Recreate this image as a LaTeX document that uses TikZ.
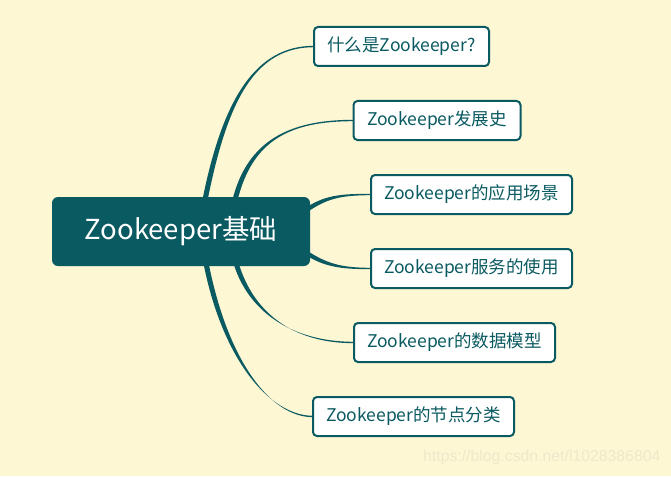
\documentclass[tikz,border=0pt]{standalone}
\usepackage{fontspec}
\setmainfont{Noto Sans CJK SC}
\newfontfamily\wmfont{Liberation Sans}
\usetikzlibrary{calc}
\definecolor{bg}{HTML}{FEF7D4}
\definecolor{tealc}{HTML}{0A5A61}
\definecolor{wmc}{HTML}{EFE8CB}
\pgfdeclarelayer{back}
\pgfsetlayers{back,main}
\newcommand\tbr[5]{%
  \fill[tealc] ($#1+#5$) .. controls ($#2+#5$) and ($#3+(0,0.7)$) .. ($#4+(0,0.7)$)
    -- ($#4-(0,0.7)$) .. controls ($#3-(0,0.7)$) and ($#2-#5$) .. ($#1-#5$) -- cycle;}
\begin{document}
\begin{tikzpicture}[x=1pt,y=-1pt,
  rootbox/.style={fill=tealc, rounded corners=6pt, minimum width=258pt, minimum height=69pt,
    text=white, font=\fontsize{27.5}{30}\selectfont, inner sep=0pt, outer sep=0pt},
  leaf/.style={draw=tealc, line width=2pt, fill=white, rounded corners=4pt, minimum height=39pt,
    text=tealc, font=\fontsize{17.5}{20}\selectfont, inner sep=0pt, outer sep=0pt},
  wmark/.style={text=wmc, font=\wmfont\fontsize{15.8}{18}\selectfont, anchor=west, inner sep=0pt}]
\useasboundingbox (0,0) rectangle (671,476);
\node[rootbox] (root) at (181,231.5) {Zookeeper基础};
\node[leaf, minimum width=175pt] (n1) at (401.5,46.5) {什么是Zookeeper?};
\node[leaf, minimum width=167pt] (n2) at (437,120.5) {Zookeeper发展史};
\node[leaf, minimum width=201pt] (n3) at (471.5,194.5) {Zookeeper的应用场景};
\node[leaf, minimum width=201pt] (n4) at (471.5,268.5) {Zookeeper服务的使用};
\node[leaf, minimum width=201pt] (n5) at (454.5,342.5) {Zookeeper的数据模型};
\node[leaf, minimum width=201pt] (n6) at (413.5,416.5) {Zookeeper的节点分类};
\node[wmark] (wm) at (423,457) {https://blog.csdn.net/l1028386804};
\begin{pgfonlayer}{back}
\fill[bg] (0,0) rectangle (671,476);
\coordinate (r1) at ($(root.north west)+(153,3)$);
\coordinate (r2) at ($(root.north west)+(183,3)$);
\coordinate (r3) at ($(root.north east)+(-5,14)$);
\coordinate (r4) at ($(root.south east)+(-5,-14)$);
\coordinate (r5) at ($(root.south west)+(184,-3)$);
\coordinate (r6) at ($(root.south west)+(154,-3)$);
\tbr{(r1)}{(225,100)}{(255,46.5)}{(n1.west)}{(2.6,0)}
\tbr{(r2)}{(250,140)}{(290,120.5)}{(n2.west)}{(2.6,0)}
\tbr{(r3)}{(325,197)}{(340,194.5)}{(n3.west)}{(1.3,1.8)}
\tbr{(r4)}{(325,265)}{(340,268.5)}{(n4.west)}{(-1.2,1.85)}
\tbr{(r5)}{(250,310)}{(290,342.5)}{(n5.west)}{(2.6,0)}
\tbr{(r6)}{(225,360)}{(270,416.5)}{(n6.west)}{(2.6,0)}
\end{pgfonlayer}
\end{tikzpicture}
\end{document}
